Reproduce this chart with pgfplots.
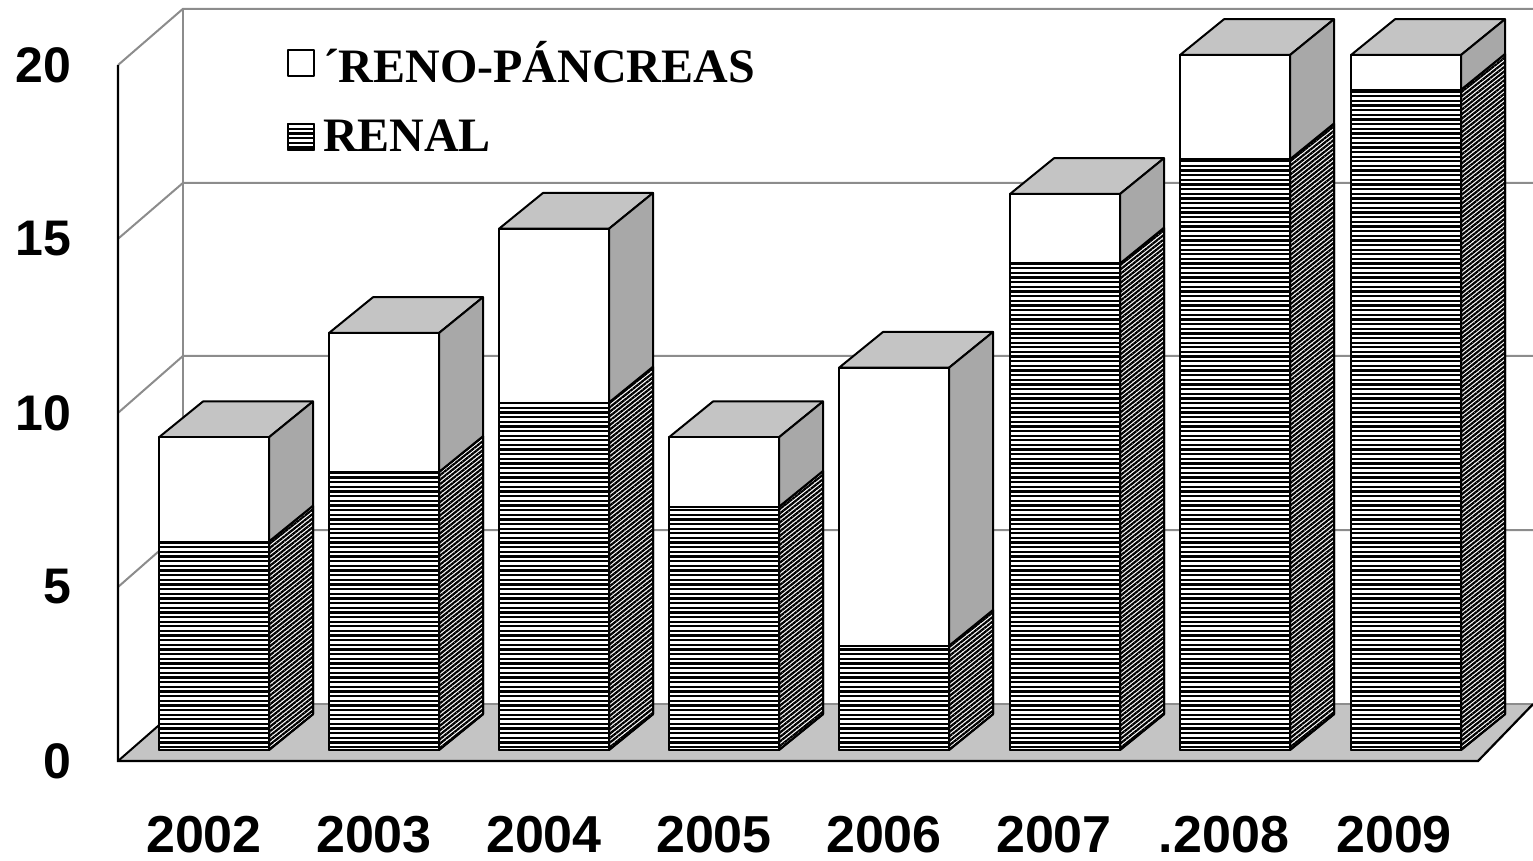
\documentclass[border=0pt]{standalone}
\usepackage{fontspec}
\setmainfont{Liberation Sans}
\newfontfamily\legfont{Liberation Serif}
\usepackage{pgfplots}
\pgfplotsset{compat=1.18}
\usetikzlibrary{patterns,patterns.meta}
\pgfdeclarepatternformonly{widelines}{\pgfpoint{-5pt}{-1pt}}{\pgfpoint{1700pt}{6pt}}{\pgfpoint{1600pt}{4.65pt}}{%
  \pgfpathrectangle{\pgfpoint{-5pt}{1pt}}{\pgfpoint{1700pt}{2.3pt}}\pgfusepath{fill}}
\definecolor{topgray}{HTML}{C4C4C4}
\definecolor{sidegray}{HTML}{A8A8A8}
\definecolor{gridgray}{HTML}{8C8C8C}
\pgfplotsset{
  frame/.style={scale only axis,width=1533pt,height=861pt,xmin=0,xmax=1533,ymin=-3.194,ymax=21.583,
    anchor=south west,at={(0pt,0pt)}},
  hfront/.style={fill=white,postaction={pattern=widelines,pattern color=black}},
  hside/.style={fill=white,postaction={pattern={Lines[angle=38.5,distance=3.5pt,line width=2.2pt]},pattern color=black}},
  face/.style={draw=black,line width=2pt,line join=round},
  wall/.style={draw=gridgray,line width=2pt},
}
% right x, back-right x, left x, back-left x, renal, renal+depth, total, total+depth
\newcommand{\threeD}[8]{%
  \addplot[face,fill=topgray] coordinates {(#3,#7) (#4,#8) (#2,#8) (#1,#7)} --cycle;
  \addplot[face,hside] coordinates {(#1,0) (#2,1.03) (#2,#6) (#1,#5)} --cycle;
  \addplot[face,fill=sidegray] coordinates {(#1,#5) (#2,#6) (#2,#8) (#1,#7)} --cycle;
}
\begin{document}
\begin{tikzpicture}[x=1pt,y=1pt]
\begin{axis}[frame,hide axis]
  % floor
  \addplot[draw=none,fill=topgray] coordinates {(118,-0.317) (183,1.32) (1533,1.32) (1533,1.32) (1478,-0.317)} --cycle;
  \addplot[wall] coordinates {(183,1.32) (1533,1.32)};
  % back wall and left wall grid lines
  \addplot[wall] coordinates {(118,4.69) (183,6.33) (1533,6.33)};
  \addplot[wall] coordinates {(118,9.70) (183,11.34) (1533,11.34)};
  \addplot[wall] coordinates {(118,14.71) (183,16.32) (1533,16.32)};
  \addplot[wall] coordinates {(118,19.71) (183,21.33) (1533,21.33)};
  \addplot[wall] coordinates {(183,1.32) (183,21.33)};
  % front lines
  \addplot[draw=black,line width=2.2pt] coordinates {(118,19.71) (118,-0.317) (1478,-0.317) (1533,1.32)};
  \addplot[draw=black,line width=2pt] coordinates {(118,-0.317) (183,1.32)};
  % depth faces of the bars
  \threeD{269}{313}{159}{203}{6}{7.03}{9}{10.03}
  \threeD{439}{483}{329}{373}{8}{9.03}{12}{13.03}
  \threeD{609}{653}{499}{543}{10}{11.03}{15}{16.03}
  \threeD{779}{823}{669}{713}{7}{8.03}{9}{10.03}
  \threeD{949}{993}{839}{883}{3}{4.03}{11}{12.03}
  \threeD{1120}{1164}{1010}{1054}{14}{15.03}{16}{17.03}
  \threeD{1290}{1334}{1180}{1224}{17}{18.03}{20}{21.03}
  \threeD{1461}{1505}{1351}{1395}{19}{20.03}{20}{21.03}
\end{axis}
\begin{axis}[frame,
  ybar stacked,bar width=110,
  axis line style={draw=none},major tick length=0pt,tick style={draw=none},
  axis on top=false,
  xtick={204,374,544,714,884,1054,1224,1394},
  xticklabels={2002,2003,2004,2005,2006,2007,.2008,2009},
  xticklabel style={anchor=center,yshift=26pt,font=\fontsize{52pt}{52pt}\selectfont\bfseries},
  ytick={-0.317,4.69,9.70,14.71,19.71},
  yticklabels={0,5,10,15,20},
  yticklabel style={anchor=east,xshift=75pt,font=\fontsize{50pt}{50pt}\selectfont\bfseries},
  reverse legend,
  legend cell align=left,
  legend image code/.code={\draw[line width=2pt,draw=black,#1] (0pt,-13pt) rectangle (26pt,13pt);\path (32pt,0pt);},
  legend style={draw=none,fill=none,at={(axis cs:287,20.45)},anchor=north west,inner sep=0pt,outer sep=0pt,
    font=\legfont\fontsize{48pt}{48pt}\selectfont\bfseries,/tikz/row sep=32pt},
]
  \addplot[face,hfront] coordinates {(214,6) (384,8) (554,10) (724,7) (894,3) (1065,14) (1235,17) (1406,19)};
  \addplot[face,fill=white] coordinates {(214,3) (384,4) (554,5) (724,2) (894,8) (1065,2) (1235,3) (1406,1)};
  \legend{RENAL,´RENO-PÁNCREAS}
\end{axis}
\end{tikzpicture}
\end{document}
